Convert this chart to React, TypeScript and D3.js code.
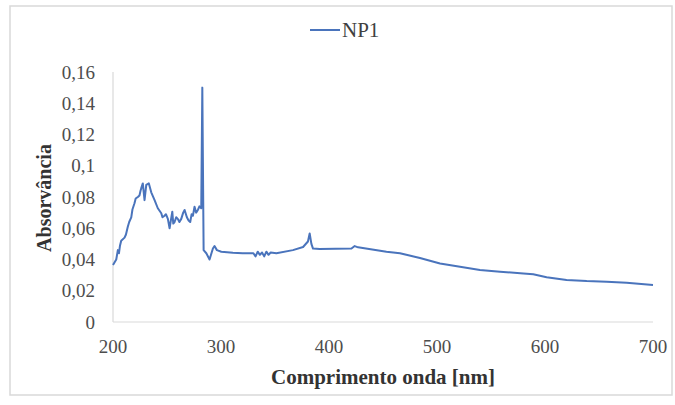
import React from 'react';
import * as d3 from 'd3';

// wavelength [nm] and absorbance
const wavelengths = [
  200, 203, 204.5, 205.5, 206.5, 207.6, 210.7, 212, 213.7, 215, 216.9, 218, 219.9, 221, 223, 224.5,
  225.5, 226.1, 227.6, 229.2, 230.8, 233.2, 235.4, 238.5, 241.5, 244.7, 245.8, 247.7, 249, 250.8,
  252.4, 254.9, 255.8, 257, 258.5, 260, 261.5, 263.2, 265, 266.3, 268.4, 270, 271.5, 272.8, 274,
  275.5, 277, 278.6, 280, 281.7, 282.7, 283.9, 286.4, 289.4, 292.5, 294, 296.2, 300.3, 311, 320,
  330, 332, 334, 336, 338, 340, 342, 344, 346, 351.3, 366.6, 376, 380.5, 382.1, 383.7, 385.2, 391.4,
  420.8, 423.8, 426.9, 453.2, 465.7, 484.2, 502.8, 521.3, 539.8, 558.4, 580, 589.1, 601.5, 620,
  638.6, 657.1, 675.6, 700,
];
const absorbance = [
  0.0365, 0.04, 0.046, 0.044, 0.049, 0.052, 0.054, 0.056, 0.061, 0.064, 0.067, 0.072, 0.076, 0.079, 0.08, 0.081,
  0.084, 0.0855, 0.0887, 0.078, 0.0877, 0.0887, 0.083, 0.078, 0.0728, 0.0696, 0.067, 0.068, 0.069, 0.066,
  0.06, 0.0706, 0.063, 0.064, 0.067, 0.066, 0.064, 0.066, 0.07, 0.0717, 0.067, 0.065, 0.064, 0.069, 0.068,
  0.0738, 0.07, 0.0717, 0.074, 0.0728, 0.15, 0.046, 0.044, 0.04, 0.047, 0.0486, 0.046, 0.045, 0.0443, 0.044,
  0.044, 0.042, 0.045, 0.043, 0.0445, 0.042, 0.045, 0.043, 0.0445, 0.044, 0.046, 0.048, 0.0515, 0.0567, 0.05, 0.047, 0.0467,
  0.047, 0.0486, 0.0478, 0.045, 0.044, 0.041, 0.0374, 0.0354, 0.0333, 0.0322, 0.0311, 0.0305, 0.0286, 0.0269,
  0.0262, 0.0258, 0.0251, 0.0237,
];
const xTicks = [200, 300, 400, 500, 600, 700];
const yTicks = [0, 0.02, 0.04, 0.06, 0.08, 0.1, 0.12, 0.14, 0.16];
const seriesName = 'NP1';

const W = 675;
const H = 405;
const margin = { top: 72, right: 22, bottom: 83, left: 113 };
const font = '"Liberation Serif", "Times New Roman", serif';
const lineColor = '#4a74bc';

export default function App() {
  const x = d3.scaleLinear().domain([200, 700]).range([margin.left, W - margin.right]);
  const y = d3.scaleLinear().domain([0, 0.16]).range([H - margin.bottom, margin.top]);

  const points = wavelengths.map((w, i) => [w, absorbance[i]] as [number, number]);
  const path = d3.line<[number, number]>()
    .x(d => x(d[0]))
    .y(d => y(d[1]))(points);

  const fmt = (v: number) => String(+v.toFixed(2)).replace('.', ',');

  return (
    <svg width={W} height={H} style={{ position: 'absolute', left: 0, top: 0 }} fontFamily={font}>
      <rect x={0} y={0} width={W} height={H} fill="#fff" />
      <rect x={10} y={6} width={662} height={389} fill="none" stroke="#d9d9d9" strokeWidth={1.5} />

      {/* legend */}
      <line x1={310} x2={340} y1={30} y2={30} stroke={lineColor} strokeWidth={2} />
      <text x={342} y={37} fontSize={21} fill="#404040">{seriesName}</text>

      {/* axes */}
      <line x1={x(200)} x2={x(200)} y1={y(0.16)} y2={y(0)} stroke="#d9d9d9" strokeWidth={1.2} />
      <line x1={x(200)} x2={x(700)} y1={y(0)} y2={y(0)} stroke="#d9d9d9" strokeWidth={1.2} />

      {yTicks.map(t => (
        <text key={t} x={95} y={y(t)} dy="0.35em" textAnchor="end" fontSize={19} fill="#4d4d4d">
          {fmt(t)}
        </text>
      ))}
      {xTicks.map(t => (
        <text key={t} x={x(t)} y={353} textAnchor="middle" fontSize={19} fill="#4d4d4d">
          {t}
        </text>
      ))}

      <path d={path ?? ''} fill="none" stroke={lineColor} strokeWidth={2} strokeLinejoin="round" />

      <text x={383} y={384} textAnchor="middle" fontSize={21} fontWeight="bold" fill="#333">
        Comprimento onda [nm]
      </text>
      <text
        transform="translate(51,198) rotate(-90)"
        textAnchor="middle"
        fontSize={20}
        fontWeight="bold"
        fill="#333"
      >
        Absorvância
      </text>
    </svg>
  );
}
